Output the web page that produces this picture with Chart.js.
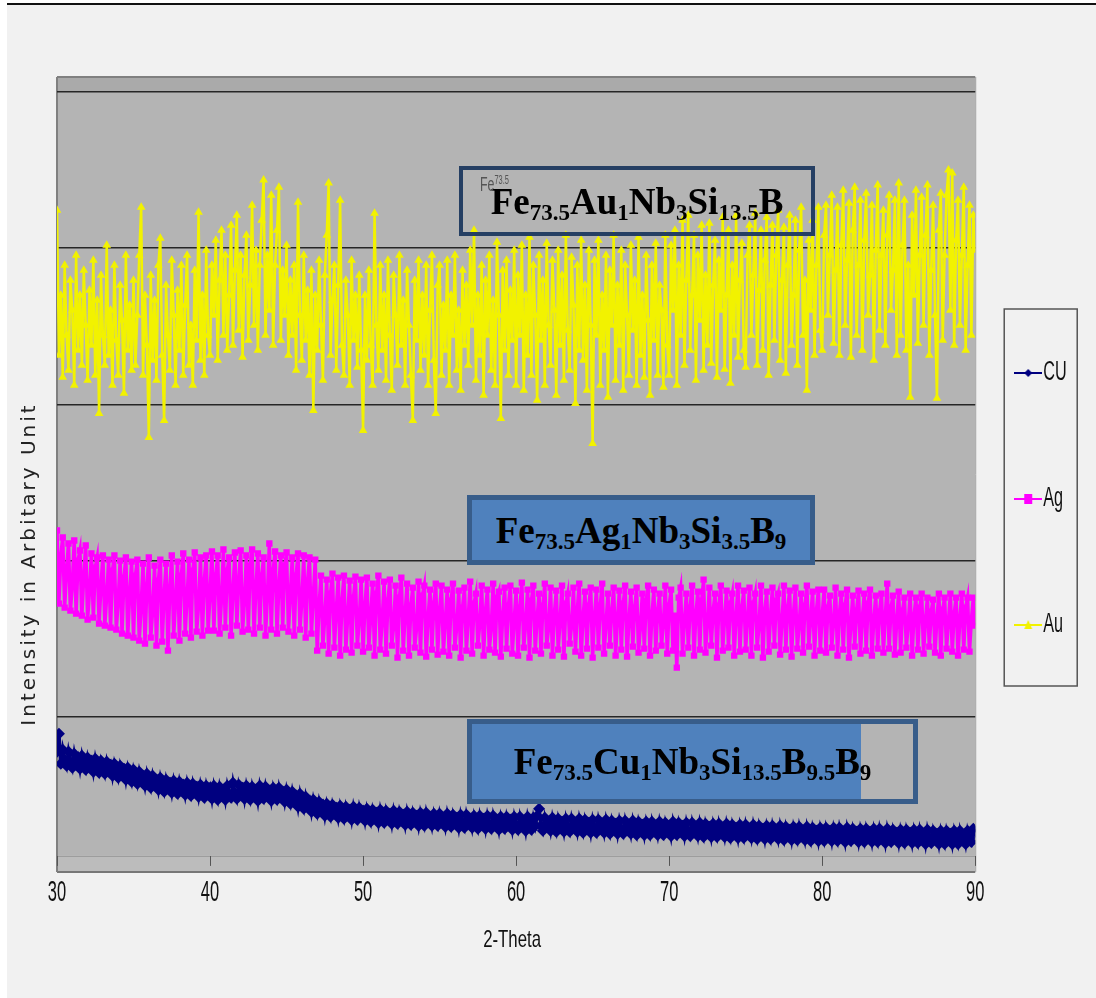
<!DOCTYPE html>
<html>
<head>
<meta charset="utf-8">
<script src="https://cdn.jsdelivr.net/npm/chart.js@4.4.1/dist/chart.umd.min.js"></script>
<style>
  html, body { margin: 0; padding: 0; background: #fff; }
  #wrap { position: relative; width: 1096px; height: 998px; overflow: hidden; }
  #panel { position: absolute; left: 7px; top: 3px; right: 0; bottom: 0; background: #f1f1f1; border-top: 2px solid #111; }
  canvas { position: absolute; left: 0; top: 0; }
  .box { position: absolute; box-sizing: border-box; display: flex; align-items: center; justify-content: center;
         font-family: 'Liberation Serif', 'Times New Roman', serif; font-weight: bold; font-size: 37px;
         line-height: 1; color: #000; white-space: nowrap; }
  .box sub { font-size: 23px; vertical-align: baseline; position: relative; top: 6px; }
  #boxAu { left: 459px; top: 166px; width: 356px; height: 70px; border: 4px solid #253f63; }
  #boxAg { left: 467px; top: 495px; width: 348px; height: 70px; border: 5px solid #385d8a; background: #4f81bd; }
  #boxCu { left: 467px; top: 719px; width: 451px; height: 85px; border: 5px solid #385d8a;
           background: linear-gradient(90deg, #4f81bd 389px, transparent 389px); }
  #ghost { position: absolute; left: 480px; top: 174px; font-family: 'Liberation Sans', Arial, sans-serif;
           font-size: 20px; line-height: 1; color: #555; transform: scaleX(0.62); transform-origin: left top; white-space: nowrap; }
  #ghost sup { font-size: 12px; vertical-align: baseline; position: relative; top: -7px; }
</style>
</head>
<body>
<div id="wrap">
  <div id="panel"></div>
  <canvas id="chart" width="1096" height="998"></canvas>
  <div id="boxAu" class="box"><span>Fe<sub>73.5</sub>Au<sub>1</sub>Nb<sub>3</sub>Si<sub>13.5</sub>B</span></div>
  <div id="ghost">Fe<sup>73.5</sup></div>
  <div id="boxAg" class="box"><span>Fe<sub>73.5</sub>Ag<sub>1</sub>Nb<sub>3</sub>Si<sub>3.5</sub>B<sub>9</sub></span></div>
  <div id="boxCu" class="box"><span>Fe<sub>73.5</sub>Cu<sub>1</sub>Nb<sub>3</sub>Si<sub>13.5</sub>B<sub>9.5</sub>B<sub>9</sub></span></div>
</div>
<script>
// 2-theta sampling of the scans (degrees)
const START_ANGLE = 30;
const STEP = 0.125;
const X_TICKS = [30, 40, 50, 60, 70, 80, 90];
// major gridlines of the intensity axis (arbitrary unit)
const GRID = [139, 295, 451, 607, 763];
const Y_MAX = 778;

const seriesNames = ['CU', 'Ag', 'Au'];
const xTitle = '2-Theta';
const yTitle = 'Intensity in Arbitary Unit';

// intensities, one value per 0.125 degree, 30..90 (one row = 5 degrees)
const cu = [
  104, 122, 92, 106, 96, 90, 104, 94, 88, 102, 92, 98, 87, 100, 91, 86, 98, 90, 95, 84, 97, 88, 83, 95, 89, 82, 94, 86, 91, 80, 92, 85, 78, 90, 83, 87, 76, 88, 81, 74,
  86, 79, 72, 84, 76, 80, 70, 82, 74, 68, 80, 72, 76, 66, 78, 70, 64, 76, 68, 73, 63, 75, 67, 62, 74, 66, 71, 61, 73, 65, 60, 72, 64, 69, 59, 71, 63, 58, 70, 62,
  68, 57, 70, 62, 56, 69, 61, 66, 56, 70, 62, 58, 73, 63, 57, 71, 64, 68, 57, 70, 62, 56, 69, 61, 66, 55, 70, 62, 57, 69, 60, 65, 55, 68, 61, 56, 68, 59, 64, 54,
  66, 58, 52, 64, 55, 60, 49, 62, 53, 47, 59, 50, 55, 44, 56, 48, 42, 54, 46, 51, 40, 52, 45, 39, 51, 44, 48, 38, 50, 43, 37, 49, 42, 46, 36, 49, 41, 36, 48, 40,
  45, 35, 47, 40, 34, 46, 39, 43, 33, 46, 38, 33, 45, 38, 42, 32, 45, 37, 32, 44, 37, 41, 31, 44, 36, 31, 43, 36, 40, 30, 43, 36, 30, 43, 35, 39, 30, 42, 35, 30,
  42, 34, 38, 29, 42, 34, 29, 41, 34, 38, 28, 41, 33, 28, 41, 33, 37, 28, 40, 33, 27, 40, 32, 37, 27, 40, 32, 27, 40, 32, 36, 26, 39, 32, 27, 39, 31, 36, 26, 39,
  31, 26, 39, 31, 35, 25, 39, 31, 26, 38, 30, 40, 47, 30, 25, 38, 30, 34, 25, 38, 30, 24, 37, 30, 34, 24, 37, 29, 24, 37, 29, 33, 24, 37, 29, 23, 36, 29, 33, 23,
  36, 28, 23, 36, 28, 32, 23, 36, 28, 22, 35, 28, 32, 22, 35, 27, 22, 35, 27, 31, 22, 35, 27, 21, 34, 27, 31, 21, 34, 27, 21, 34, 26, 30, 21, 34, 26, 21, 33, 26,
  30, 20, 34, 26, 21, 33, 26, 30, 20, 33, 25, 20, 33, 25, 29, 20, 33, 25, 19, 32, 25, 29, 19, 32, 25, 19, 32, 24, 28, 19, 32, 24, 18, 31, 24, 28, 18, 31, 24, 18,
  31, 23, 27, 18, 31, 23, 17, 30, 23, 27, 17, 30, 23, 17, 30, 22, 26, 17, 30, 22, 16, 29, 22, 26, 16, 29, 22, 16, 29, 21, 25, 16, 29, 21, 15, 28, 21, 25, 15, 28,
  21, 15, 28, 21, 25, 15, 28, 21, 15, 28, 20, 24, 14, 28, 20, 15, 27, 20, 24, 14, 27, 20, 14, 27, 20, 24, 14, 27, 20, 14, 27, 19, 23, 13, 27, 19, 14, 26, 19, 23,
  13, 26, 19, 13, 26, 19, 23, 13, 26, 19, 13, 26, 18, 22, 12, 26, 18, 13, 25, 18, 22, 12, 25, 18, 12, 25, 18, 22, 12, 25, 18, 12, 25, 17, 21, 12, 25, 18, 14, 27,
  24
];

const ag = [
  325, 252, 300, 318, 248, 285, 312, 245, 270, 315, 242, 295, 305, 240, 280, 310, 236, 265, 302, 238, 288, 298, 232, 270, 300, 230, 260, 296, 228, 285, 300, 226, 255, 295, 222, 278, 298, 220, 262, 294,
  218, 280, 296, 215, 250, 292, 212, 270, 298, 218, 245, 290, 210, 275, 296, 214, 260, 292, 205, 268, 300, 220, 255, 294, 215, 280, 302, 222, 258, 296, 218, 285, 303, 224, 250, 298, 220, 275, 300, 225,
  262, 304, 225, 280, 300, 222, 258, 306, 228, 285, 298, 220, 265, 303, 230, 275, 305, 224, 255, 300, 226, 290, 306, 222, 268, 302, 228, 280, 298, 220, 260, 312, 226, 285, 304, 222, 270, 300, 228, 290,
  303, 224, 262, 298, 220, 280, 302, 226, 255, 300, 218, 275, 298, 222, 260, 296, 205, 250, 280, 210, 238, 276, 202, 262, 282, 208, 245, 278, 200, 255, 280, 206, 240, 275, 203, 258, 279, 210, 235, 276,
  204, 250, 278, 208, 240, 272, 200, 262, 280, 206, 235, 274, 202, 255, 276, 210, 230, 270, 198, 258, 278, 205, 242, 272, 200, 250, 268, 208, 228, 274, 203, 260, 270, 199, 238, 266, 206, 252, 272, 201,
  245, 270, 204, 235, 266, 200, 255, 272, 208, 230, 265, 198, 248, 268, 205, 238, 274, 202, 252, 262, 210, 232, 270, 200, 245, 266, 206, 228, 272, 203, 258, 264, 199, 240, 268, 207, 250, 270, 202, 235,
  265, 200, 248, 273, 208, 232, 266, 198, 255, 270, 205, 238, 262, 202, 250, 272, 210, 228, 268, 200, 242, 265, 206, 235, 270, 199, 252, 262, 212, 230, 268, 204, 246, 272, 200, 238, 264, 207, 250, 268,
  198, 240, 266, 208, 250, 272, 202, 232, 262, 210, 245, 268, 200, 238, 265, 206, 252, 270, 199, 235, 264, 209, 248, 268, 203, 230, 262, 207, 255, 270, 200, 240, 266, 205, 245, 262, 210, 232, 270, 202,
  250, 266, 205, 240, 188, 258, 268, 202, 235, 262, 208, 248, 270, 200, 242, 264, 206, 255, 276, 203, 232, 268, 210, 245, 262, 198, 250, 270, 205, 238, 265, 208, 252, 262, 200, 240, 270, 204, 248, 265,
  206, 238, 268, 200, 252, 262, 208, 230, 270, 198, 245, 264, 204, 240, 268, 210, 255, 262, 201, 235, 270, 206, 248, 265, 199, 242, 268, 207, 232, 262, 203, 250, 270, 209, 238, 264, 200, 245, 266, 205,
  240, 266, 203, 248, 260, 208, 235, 268, 200, 242, 262, 206, 250, 266, 198, 232, 260, 209, 245, 265, 202, 238, 262, 205, 252, 266, 200, 236, 260, 207, 244, 262, 203, 240, 272, 207, 248, 260, 201, 236,
  264, 203, 245, 258, 208, 232, 262, 200, 240, 258, 206, 248, 262, 202, 236, 258, 209, 244, 256, 203, 238, 262, 200, 246, 258, 207, 234, 262, 204, 242, 258, 200, 238, 262, 206, 248, 258, 204, 236, 258,
  230
];

const au = [
  645, 500, 560, 478, 590, 520, 485, 575, 545, 470, 600, 505, 560, 490, 585, 530, 475, 565, 510, 595, 480, 555, 442, 580, 520, 490, 610, 500, 545, 470, 590, 515, 480, 570, 535, 462, 600, 505, 550, 485,
  575, 490, 540, 600, 648, 480, 560, 510, 418, 580, 495, 555, 475, 590, 617, 500, 435, 570, 520, 485, 595, 540, 470, 565, 505, 590, 480, 550, 600, 490, 530, 470, 585, 515, 643, 495, 560, 480, 605, 520,
  500, 590, 540, 615, 495, 575, 625, 520, 600, 505, 560, 630, 510, 585, 640, 525, 600, 498, 580, 620, 515, 570, 650, 530, 605, 505, 590, 635, 675, 520, 600, 545, 660, 510, 590, 625, 668, 515, 585, 540,
  610, 500, 575, 520, 590, 485, 653, 540, 495, 600, 515, 565, 480, 585, 445, 560, 505, 595, 530, 475, 580, 620, 672, 500, 555, 590, 485, 570, 655, 510, 480, 575, 540, 470, 595, 515, 560, 488, 580, 505,
  425, 560, 495, 585, 510, 470, 642, 530, 485, 590, 505, 560, 475, 595, 520, 465, 580, 540, 490, 600, 510, 555, 470, 585, 530, 480, 435, 575, 515, 595, 485, 560, 500, 590, 470, 545, 600, 495, 442, 570,
  590, 480, 550, 505, 595, 470, 560, 520, 600, 485, 545, 465, 585, 510, 570, 490, 605, 530, 625, 475, 560, 500, 590, 460, 575, 520, 600, 485, 555, 470, 613, 540, 437, 585, 505, 595, 480, 565, 515, 605,
  470, 580, 520, 610, 465, 560, 500, 618, 480, 590, 540, 455, 600, 515, 575, 470, 612, 530, 490, 595, 545, 460, 605, 510, 580, 475, 620, 525, 485, 598, 550, 452, 590, 505, 615, 495, 570, 465, 605, 530,
  412, 595, 520, 615, 470, 560, 505, 600, 458, 585, 530, 620, 475, 570, 510, 605, 465, 590, 540, 480, 610, 525, 575, 470, 618, 500, 560, 478, 600, 535, 460, 590, 515, 612, 480, 570, 545, 468, 620, 510,
  480, 610, 545, 625, 470, 590, 520, 635, 490, 575, 640, 505, 560, 620, 475, 600, 535, 630, 485, 580, 510, 632, 492, 570, 615, 478, 595, 545, 638, 486, 560, 625, 472, 590, 520, 640, 498, 575, 612, 505,
  488, 600, 630, 520, 580, 642, 490, 565, 625, 505, 595, 638, 480, 570, 630, 515, 600, 645, 495, 575, 628, 482, 590, 640, 510, 560, 635, 490, 605, 648, 520, 575, 465, 615, 545, 635, 500, 590, 648, 525,
  505, 620, 650, 540, 600, 660, 512, 585, 648, 500, 610, 665, 530, 595, 652, 498, 625, 668, 520, 590, 655, 505, 615, 662, 540, 580, 650, 495, 605, 670, 525, 600, 645, 510, 620, 660, 545, 585, 655, 500,
  672, 520, 610, 655, 505, 590, 458, 640, 560, 665, 512, 600, 658, 530, 620, 670, 500, 585, 650, 540, 457, 625, 662, 515, 600, 660, 685, 545, 682, 510, 615, 655, 530, 600, 668, 505, 590, 650, 520, 640,
  605
];

const SANS = "'Liberation Sans', Arial, sans-serif";
const CLEAR = 'rgba(0,0,0,0)';

function toPoints(values) {
  return values.map((v, i) => ({ x: START_ANGLE + i * STEP, y: v }));
}

// the picture uses squeezed (condensed) lettering, so squeeze it horizontally
function narrowText(ctx, text, x, y, size, sx, align) {
  ctx.save();
  ctx.translate(x, y);
  ctx.scale(sx, 1);
  ctx.font = size + 'px ' + SANS;
  ctx.textAlign = align;
  ctx.textBaseline = 'middle';
  ctx.fillStyle = '#111';
  ctx.fillText(text, 0, 0);
  ctx.restore();
}

// small line+marker swatch for the legend
function legendIcon(color, shape) {
  const c = document.createElement('canvas');
  c.width = 28; c.height = 12;
  const g = c.getContext('2d');
  g.strokeStyle = color; g.lineWidth = 2;
  g.beginPath(); g.moveTo(0, 6); g.lineTo(28, 6); g.stroke();
  g.fillStyle = color; g.beginPath();
  if (shape === 'diamond') { g.moveTo(14, 2); g.lineTo(18, 6); g.lineTo(14, 10); g.lineTo(10, 6); }
  else if (shape === 'square') { g.rect(10, 1, 8, 10); }
  else { g.moveTo(14, 1); g.lineTo(18, 10); g.lineTo(10, 10); }
  g.closePath(); g.fill();
  return c;
}

const colors = ['#000080', '#ff00ff', '#f2f200'];
const icons = [legendIcon(colors[0], 'diamond'), legendIcon(colors[1], 'square'), legendIcon(colors[2], 'tri')];

const backdrop = {
  id: 'backdrop',
  beforeDraw(chart) {
    const { ctx, chartArea: a, scales } = chart;
    const w = a.right - a.left;
    const yTop = scales.y.getPixelForValue(GRID[GRID.length - 1]);
    ctx.save();
    ctx.fillStyle = '#b4b4b4';
    ctx.fillRect(a.left, a.top, w, a.bottom - a.top);
    ctx.fillStyle = '#aaaaaa';
    ctx.fillRect(a.left, a.top, w, yTop - a.top);
    // floor strip under the plot
    ctx.fillStyle = '#bcbcbc';
    ctx.fillRect(a.left, a.bottom, w, 16);
    ctx.strokeStyle = '#9a9a9a'; ctx.lineWidth = 1;
    ctx.beginPath(); ctx.moveTo(a.left, a.bottom + 0.5); ctx.lineTo(a.right, a.bottom + 0.5); ctx.stroke();
    ctx.strokeStyle = '#777'; ctx.lineWidth = 2;
    ctx.beginPath(); ctx.moveTo(a.left, a.bottom + 16); ctx.lineTo(a.right, a.bottom + 16); ctx.stroke();
    ctx.strokeStyle = '#808080';
    ctx.beginPath(); ctx.moveTo(a.left, a.top); ctx.lineTo(a.right, a.top); ctx.stroke();
    ctx.beginPath(); ctx.moveTo(a.left, a.top); ctx.lineTo(a.left, a.bottom + 16); ctx.stroke();
    ctx.strokeStyle = '#a0a0a0'; ctx.lineWidth = 1;
    ctx.beginPath(); ctx.moveTo(a.right + 0.5, a.top); ctx.lineTo(a.right + 0.5, a.bottom + 16); ctx.stroke();
    ctx.restore();
  },
  afterDraw(chart) {
    const { ctx, chartArea: a, scales } = chart;
    // x tick labels and title, at the positions the x scale gives
    scales.x.ticks.forEach(t => narrowText(ctx, String(t.value), scales.x.getPixelForValue(t.value), 893, 30, 0.55, 'center'));
    narrowText(ctx, xTitle, (a.left + a.right) / 2 - 4, 940, 24, 0.7, 'center');
    // y axis title
    ctx.save();
    ctx.translate(30, 564);
    ctx.rotate(-Math.PI / 2);
    ctx.font = "20px 'DejaVu Sans'";
    ctx.letterSpacing = '3px';
    ctx.fillStyle = '#222';
    ctx.textAlign = 'center';
    ctx.textBaseline = 'middle';
    ctx.fillText(yTitle, 0, 0);
    ctx.restore();
    // legend texts and frame
    const hb = chart.legend.legendHitBoxes;
    if (hb && hb.length) {
      hb.forEach((b, i) => narrowText(ctx, seriesNames[i], b.left + 19, b.top + 11, 27, 0.6, 'left'));
      const first = hb[0], last = hb[hb.length - 1];
      ctx.save();
      ctx.strokeStyle = '#555'; ctx.lineWidth = 1.5;
      ctx.strokeRect(first.left - 20, first.top - 53, 73, last.top + 72 - (first.top - 53));
      ctx.restore();
    }
  }
};

new Chart(document.getElementById('chart'), {
  type: 'line',
  data: {
    datasets: [
      { label: seriesNames[0], data: toPoints(cu), borderColor: colors[0], backgroundColor: colors[0],
        borderWidth: 3.5, pointStyle: 'rectRot', pointRadius: 6, pointBorderWidth: 0 },
      { label: seriesNames[1], data: toPoints(ag), borderColor: colors[1], backgroundColor: colors[1],
        borderWidth: 3.5, pointStyle: 'rect', pointRadius: 4.5, pointBorderWidth: 0 },
      { label: seriesNames[2], data: toPoints(au), borderColor: colors[2], backgroundColor: colors[2],
        borderWidth: 2.5, pointStyle: 'triangle', pointRadius: 5, pointBorderWidth: 0 }
    ]
  },
  options: {
    responsive: false,
    animation: false,
    devicePixelRatio: 1,
    elements: { line: { tension: 0 } },
    layout: { padding: { left: 57, top: 77, right: 11, bottom: 22 } },
    plugins: {
      tooltip: { enabled: false },
      legend: {
        position: 'right',
        labels: {
          usePointStyle: true,
          pointStyleWidth: 8,
          padding: 49,
          color: CLEAR,
          font: { family: SANS, size: 22, lineHeight: '77px' },
          generateLabels: (chart) => chart.data.datasets.map((ds, i) => ({
            text: [ds.label], pointStyle: icons[i], fillStyle: ds.backgroundColor,
            strokeStyle: ds.borderColor, lineWidth: 0, hidden: false, datasetIndex: i, fontColor: CLEAR
          }))
        }
      }
    },
    scales: {
      x: {
        type: 'linear', min: X_TICKS[0], max: X_TICKS[X_TICKS.length - 1],
        afterBuildTicks: (s) => { s.ticks = X_TICKS.map(v => ({ value: v })); },
        grid: { drawOnChartArea: false, drawTicks: true, tickLength: 10, color: '#555' },
        border: { display: false },
        ticks: { padding: 12, color: CLEAR, font: { family: SANS, size: 26 } },
        title: { display: true, text: xTitle, color: CLEAR,
                 font: { family: SANS, size: 22 }, padding: { top: 5.5, bottom: 23 } }
      },
      y: {
        min: 0, max: Y_MAX,
        afterBuildTicks: (s) => { s.ticks = GRID.map(v => ({ value: v })); },
        grid: { drawTicks: false, color: '#262626', lineWidth: 1.5 },
        border: { display: false },
        ticks: { display: false }
      }
    }
  },
  plugins: [backdrop]
});
</script>
</body>
</html>
